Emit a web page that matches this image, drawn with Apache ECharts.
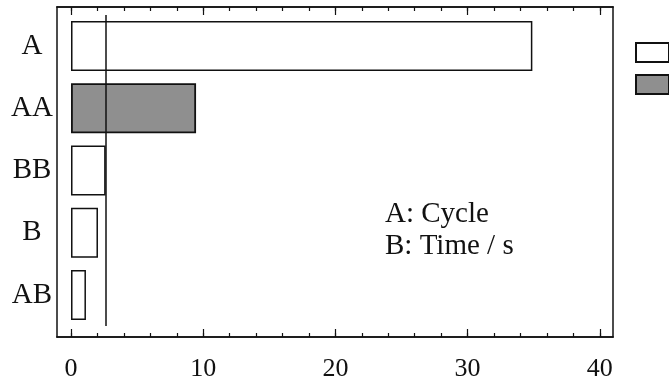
<!DOCTYPE html>
<html>
<head>
<meta charset="utf-8">
<script src="https://cdn.jsdelivr.net/npm/echarts@6/dist/echarts.min.js"></script>
<style>html,body{margin:0;padding:0;background:#fff;}#c{width:669px;height:384px;}</style>
</head>
<body>
<div id="c"></div>
<script>
const categories = ['A', 'AA', 'BB', 'B', 'AB'];
const effects = [34.9, 9.46, 2.62, 2.04, 1.13];
const isPositive = [true, false, true, true, true];
const refValue = 2.65;
const majorTicks = [0, 10, 20, 30, 40];
const minorTicks = [0, 2, 4, 6, 8, 10, 12, 14, 16, 18, 20, 22, 24, 26, 28, 30, 32, 34, 36, 38, 40];
const seriesNames = ['Positive', 'Negative'];
const annotation = ['A: Cycle', 'B: Time / s'];

const xMin = -1.06, xMax = 41.0;
const FONT = 'Liberation Serif';
const posData = effects.map((v, i) => isPositive[i] ? v : null);
const negData = effects.map((v, i) => isPositive[i] ? null : v);

const chart = echarts.init(document.getElementById('c'), null, {renderer: 'canvas'});
const lineCol = '#111';
function boxX(pos, ticks, len, labels) {
  return {
    type: 'value', gridIndex: 0, position: pos, min: xMin, max: xMax,
    axisLine: {show: true, onZero: false, lineStyle: {color: lineCol, width: 1.5}},
    axisTick: {show: true, inside: true, length: len, customValues: ticks, lineStyle: {color: lineCol, width: 1.2}},
    axisLabel: labels ? {show: true, customValues: majorTicks, color: '#111', fontFamily: FONT, fontSize: 26, margin: 19} : {show: false},
    splitLine: {show: false}
  };
}
function boxY(pos) {
  return {
    type: 'value', gridIndex: 0, position: pos, min: 0, max: 1,
    axisLine: {show: true, onZero: false, lineStyle: {color: lineCol, width: 1.5}},
    axisTick: {show: false}, axisLabel: {show: false}, splitLine: {show: false}
  };
}
chart.setOption({
  animation: false,
  backgroundColor: '#fff',
  title: {
    text: annotation.join('\n'),
    left: 380, top: 193,
    textStyle: {fontFamily: FONT, fontWeight: 'normal', fontSize: 29, lineHeight: 32, color: '#111'}
  },
  legend: {
    orient: 'vertical', left: 635, top: 42, padding: 0,
    itemWidth: 33, itemHeight: 19, itemGap: 11,
    icon: 'rect',
    formatter: () => '',
    data: seriesNames
  },
  grid: [
    {left: 57, right: 56, top: 7, bottom: 47},
    {left: 57, right: 56, top: 15, bottom: 58}
  ],
  xAxis: [
    boxX('bottom', minorTicks, 4, true),
    boxX('bottom', majorTicks, 8, false),
    boxX('top', minorTicks, 4, false),
    boxX('top', majorTicks, 8, false),
    {type: 'value', gridIndex: 1, min: xMin, max: xMax, show: false}
  ],
  yAxis: [
    boxY('left'),
    boxY('right'),
    {
      type: 'category', gridIndex: 1, data: categories, inverse: true,
      axisLine: {show: false}, axisTick: {show: false}, splitLine: {show: false},
      axisLabel: {show: true, color: '#111', fontFamily: FONT, fontSize: 29, align: 'center', margin: 25, padding: [6, 0, 0, 0]}
    }
  ],
  series: [
    {
      name: seriesNames[0], type: 'bar', xAxisIndex: 4, yAxisIndex: 2, stack: 'e',
      data: posData, barWidth: 50,
      itemStyle: {color: '#fff', borderColor: '#111', borderWidth: 1.5},
      markLine: {
        silent: true, symbol: 'none', label: {show: false},
        lineStyle: {color: '#111', width: 1.5, type: 'solid'},
        data: [{xAxis: refValue}]
      }
    },
    {
      name: seriesNames[1], type: 'bar', xAxisIndex: 4, yAxisIndex: 2, stack: 'e',
      data: negData, barWidth: 50,
      itemStyle: {color: '#8f8f8f', borderColor: '#111', borderWidth: 1.8}
    }
  ]
});
</script>
</body>
</html>
